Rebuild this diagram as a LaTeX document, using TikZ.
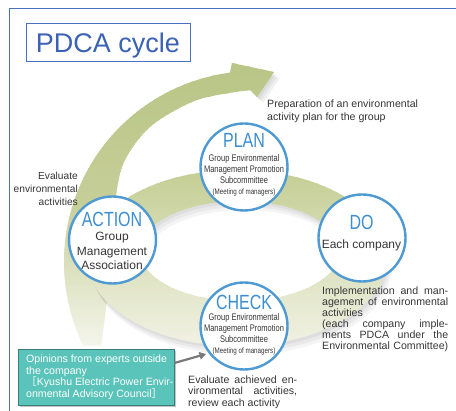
\documentclass[tikz,border=0pt]{standalone}
\usepackage{fontspec}
\setmainfont{Liberation Sans}
\newfontfamily\narrowfont[FakeStretch=0.78]{Liberation Sans}
\newfontfamily\cjk{Noto Sans CJK JP}
\usetikzlibrary{arrows.meta,shadows}
\definecolor{framebl}{HTML}{4A70C0}
\definecolor{titlebl}{HTML}{3B62B3}
\definecolor{circbl}{HTML}{4F9AD2}
\definecolor{labbl}{HTML}{3D8ED0}
\definecolor{txtc}{HTML}{363636}
\definecolor{tealc}{HTML}{5AC4BA}
\definecolor{tealdk}{HTML}{3A7D78}
\definecolor{arrtop}{HTML}{B9C586}
\definecolor{arrmid}{HTML}{C6CE98}
\definecolor{arrbot}{HTML}{F6F7EE}
\definecolor{ringtop}{HTML}{C6CF97}
\definecolor{ringbot}{HTML}{F1F2E4}
\definecolor{garr}{HTML}{7A7A7A}
\newcommand\pdcaline[4]{\node[desc,anchor=base west] (#1) at (#2) {\makebox[#3][s]{#4}};}
\begin{document}
\begin{tikzpicture}[x=1pt,y=-1pt,
  pcirc/.style={circle,draw=circbl,line width=2.4pt,fill=white,minimum size=87pt,inner sep=0pt},
  ptitle/.style={font=\narrowfont\fontsize{20.5pt}{21pt}\selectfont,text=labbl,anchor=base,inner sep=0pt},
  psub/.style={font=\narrowfont\fontsize{9.6pt}{11pt}\selectfont,text=txtc,anchor=base,inner sep=0pt},
  psmall/.style={font=\narrowfont\fontsize{8pt}{10pt}\selectfont,text=txtc,anchor=base,inner sep=0pt},
  pbody/.style={font=\fontsize{12pt}{14pt}\selectfont,text=txtc,anchor=base,inner sep=0pt},
  desc/.style={font=\fontsize{10.6pt}{12pt}\selectfont,text=txtc,inner sep=0pt},
  wdesc/.style={font=\fontsize{10.6pt}{12pt}\selectfont,text=white,inner sep=0pt,anchor=base west},
]
\useasboundingbox (0,0) rectangle (456,411);
\fill[white] (0,0) rectangle (456,411);

% frame
\draw[framebl,line width=1pt] (456,8.5) -- (9,8.5) -- (9,411);

% big arrow
\def\bigarrow{plot[domain=154:262.5,samples=60] ({255+191*cos(\x)},{262+191*sin(\x)}) -- (232,63) -- (274,72) -- (257,97) -- (250,90) -- plot[smooth] coordinates {(250,90) (197,100) (150,127) (122,167) (112,230) (108,290) (101,346)} -- cycle}
\foreach \s in {2,4,6}{\fill[black,opacity=0.05] (232+\s,63+\s) -- (274+\s,72+\s) -- (257+\s,97+\s) -- (250,90) -- cycle;}
\begin{scope}
  \clip \bigarrow;
  \foreach \i in {0,...,95}{
    \pgfmathsetmacro\yy{60+3*\i}
    \pgfmathsetmacro\pa{min(100,max(0,(\yy-60)/1.4))}
    \pgfmathsetmacro\pb{min(100,max(0,(\yy-200)/1.5))}
    \fill[arrbot!\pb!arrmid!\pa!arrtop] (50,\yy) rectangle (290,\yy+3.6);
  }
\end{scope}

% ring
\def\ringpath{(237,258) ellipse [x radius=150pt,y radius=88pt] (240,251) ellipse [x radius=100pt,y radius=50pt]}
\foreach \s in {3,6,9}{\fill[black,opacity=0.045,even odd rule,shift={(0.5*\s,\s)}] \ringpath;}
\begin{scope}[even odd rule]
  \clip \ringpath;
  \foreach \i in {0,...,60}{
    \pgfmathsetmacro\yy{168+3*\i}
    \pgfmathsetmacro\pa{min(100,max(0,(\yy-175)/1.7))}
    \fill[ringbot!\pa!ringtop] (80,\yy) rectangle (395,\yy+3.6);
  }
\end{scope}

% title
\node[draw=framebl,line width=1pt,minimum width=164pt,minimum height=38pt,inner sep=0pt] (title) at (108,43) {};
\node[font=\fontsize{27pt}{30pt}\selectfont,text=titlebl,anchor=base,inner sep=0pt] (titletext) at (108,53) {PDCA cycle};

% circles
\node[pcirc] (plan) at (244,167) {};
\node[pcirc] (do) at (362,238) {};
\node[pcirc] (check) at (244,326) {};
\node[pcirc] (action) at (112.5,240) {};

\node[ptitle] (plan-t) at (244,148) {PLAN};
\node[psub] (plan-1) at (244,161.7) {Group Environmental};
\node[psub] (plan-2) at (244,172.5) {Management Promotion};
\node[psub] (plan-3) at (244,183.3) {Subcommittee};
\node[psmall] (plan-4) at (244,194.3) {(Meeting of managers)};

\node[ptitle] (check-t) at (244,309.3) {CHECK};
\node[psub] (check-1) at (244,320.7) {Group Environmental};
\node[psub] (check-2) at (244,331.7) {Management Promotion};
\node[psub] (check-3) at (244,342.7) {Subcommittee};
\node[psmall] (check-4) at (244,353.3) {(Meeting of managers)};

\node[ptitle] (do-t) at (361.5,230) {DO};
\node[pbody] (do-1) at (361.5,249) {Each company};

\node[ptitle] (action-t) at (112,226.7) {ACTION};
\node[pbody] (action-1) at (112,241) {Group};
\node[pbody] (action-2) at (112,255.3) {Management};
\node[pbody] (action-3) at (112,269.7) {Association};

% descriptions
\node[desc,anchor=base west] (prep1) at (267,107.7) {Preparation of an environmental};
\node[desc,anchor=base west] (prep2) at (267,120.3) {activity plan for the group};

\node[desc,font=\fontsize{10.2pt}{12pt}\selectfont,anchor=base east] (ev1) at (78,179.3) {Evaluate};
\node[desc,font=\fontsize{10.2pt}{12pt}\selectfont,anchor=base east] (ev2) at (78,192.5) {environmental};
\node[desc,font=\fontsize{10.2pt}{12pt}\selectfont,anchor=base east] (ev3) at (78,205.5) {activities};

\pdcaline{im1}{322,295}{126pt}{Implementation and man-}
\pdcaline{im2}{322,306}{126pt}{agement of environmental}
\node[desc,anchor=base west] (im3) at (322,317) {activities};
\pdcaline{im4}{322,328}{126pt}{(each company imple-}
\pdcaline{im5}{322,339}{126pt}{ments PDCA under the}
\pdcaline{im6}{322,350}{126pt}{Environmental Committee)}

\pdcaline{ea1}{188,383.3}{109pt}{Evaluate achieved en-}
\pdcaline{ea2}{188,395}{109pt}{vironmental activities,}
\node[desc,anchor=base west] (ea3) at (188,406.7) {review each activity};

% opinions box
\node[draw=tealdk,line width=0.6pt,fill=tealc,minimum width=156pt,minimum height=56pt,inner sep=0pt,anchor=north west,
  drop shadow={shadow xshift=1.5pt,shadow yshift=-1.5pt,opacity=0.45}] (opinion) at (18,349) {};
\node[wdesc] (op1) at (26,362.7) {Opinions from experts outside};
\node[wdesc] (op2) at (26,374.2) {the company};
\node[wdesc] (op3) at (26,385.9) {{\cjk［}Kyushu Electric Power Envir-};
\node[wdesc] (op4) at (26,397.6) {onmental Advisory Council{\cjk ］}};

\coordinate (ga) at (174.5,363);
\coordinate (gb) at (206,354);
\draw[garr,line width=2.2pt,-{Triangle[length=6.5pt,width=7.5pt]}] (ga) -- (gb);
\end{tikzpicture}
\end{document}
